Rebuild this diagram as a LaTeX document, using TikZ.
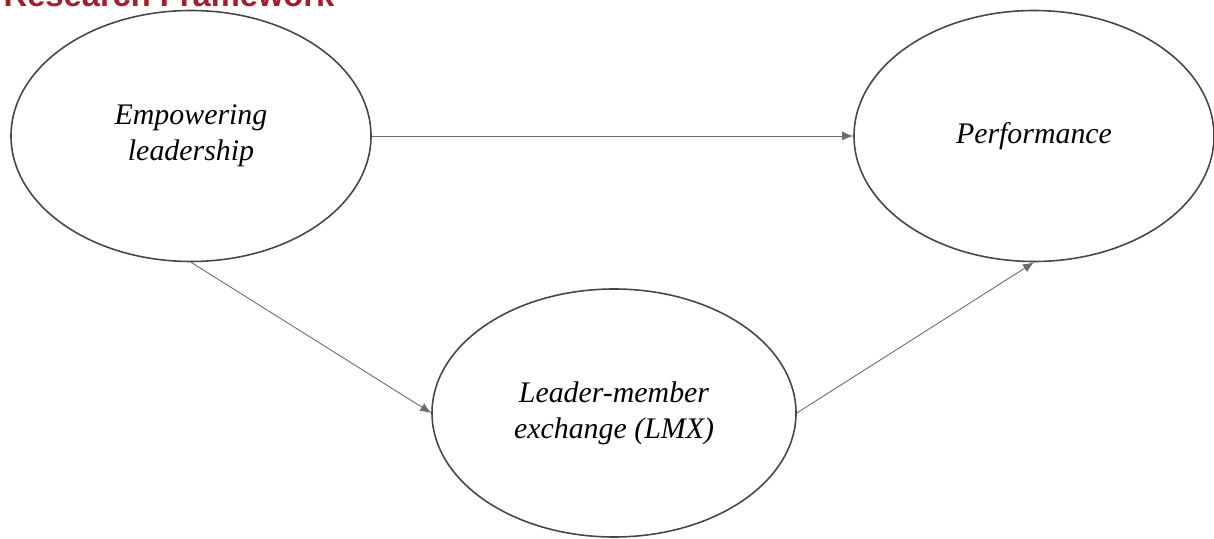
\documentclass[tikz,border=0pt]{standalone}
\usepackage{fontspec}
\setmainfont{Liberation Serif}
\newfontfamily\headfont{Liberation Sans}
\usepackage{tikz}
\usetikzlibrary{shapes.geometric}
\usetikzlibrary{arrows.meta}
\definecolor{titlered}{RGB}{163,30,45}
\definecolor{linegray}{RGB}{70,70,70}

\begin{document}
\begin{tikzpicture}[
    construct/.style = {ellipse, draw = linegray, line width = 0.9pt, inner sep = 0pt,
        minimum width = 7.2cm, minimum height = 5.02cm, align = center,
        font = \fontsize{17}{20.5}\selectfont\itshape},
    path/.style = {draw = linegray!80, line width = 0.5pt, -{Latex[length = 2.2mm, width = 1.8mm]}}
]
\clip (0,0) rectangle (24.28,-10.78);
\node[anchor = base west, text = titlered, font = \headfont\bfseries\fontsize{18.6}{22}\selectfont] (title) at (-0.05,-0.14) {Research Framework};
\node[construct] (empower) at (3.82,-2.72) {Empowering\\leadership};
\node[construct] (perform) at (20.68,-2.72) {Performance};
\node[construct, minimum width = 7.28cm, minimum height = 4.96cm] (lmx) at (12.28,-8.26) {Leader-member\\exchange (LMX)};
\draw[path] (empower.east) -- (perform.west);
\draw[path] (empower.south) -- (lmx.west);
\draw[path] (lmx.east) -- (perform.south);
\end{tikzpicture}
\end{document}
